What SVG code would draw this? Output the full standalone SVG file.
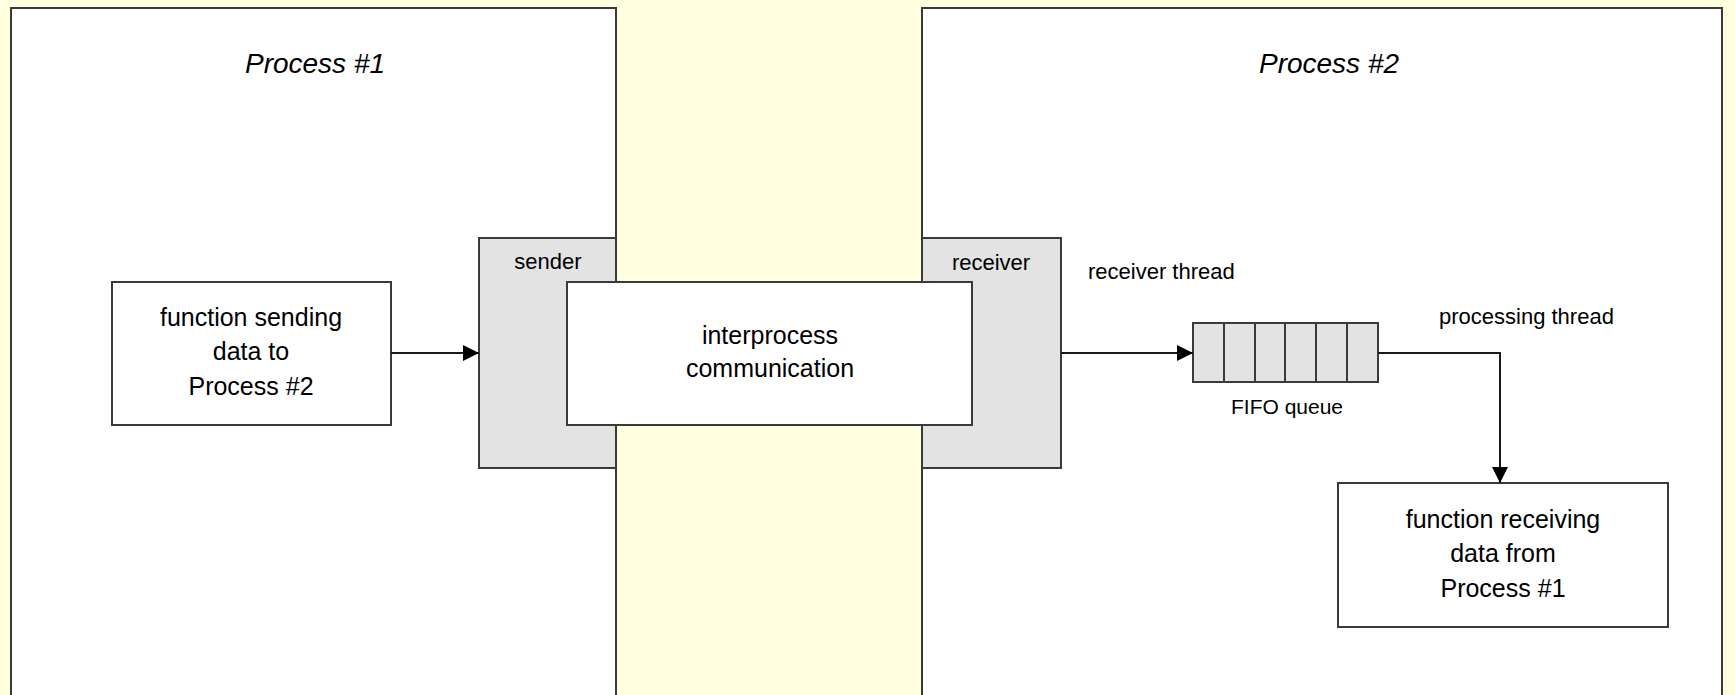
<svg xmlns="http://www.w3.org/2000/svg" width="1735" height="695" viewBox="0 0 1735 695">
<defs>
<style>
.bg{fill:#FFFFE0}
.proc{fill:#FFFFFF;stroke:#3a3a3a;stroke-width:2}
.gray{fill:#E3E3E3;stroke:#3a3a3a;stroke-width:2}
.box{fill:#FFFFFF;stroke:#3a3a3a;stroke-width:2}
.cell{fill:#E3E3E3;stroke:#3a3a3a;stroke-width:2}
.conn{fill:none;stroke:#1a1a1a;stroke-width:2}
text{font-family:"Liberation Sans",Arial,sans-serif;fill:#000}
.title{font-size:28px;font-style:italic;text-anchor:middle}
.lbl{font-size:22px}
.mid{text-anchor:middle}
.btxt{font-size:25px;text-anchor:middle}
</style>
<marker id="arr" viewBox="0 0 10 10" refX="10" refY="5" markerWidth="16" markerHeight="16" markerUnits="userSpaceOnUse" orient="auto">
<path d="M0,0 L10,5 L0,10 z" fill="#000"/>
</marker>
</defs>
<rect class="bg" x="0" y="0" width="1735" height="695"/>
<g id="process1">
<rect class="proc" x="11" y="8" width="605" height="700"/>
<text class="title" x="315" y="73">Process #1</text>
</g>
<g id="process2">
<rect class="proc" x="922" y="8" width="800" height="700"/>
<text class="title" x="1329" y="73">Process #2</text>
</g>
<g id="sender">
<rect class="gray" x="479" y="238" width="137" height="230"/>
<text class="lbl mid" x="548" y="269">sender</text>
</g>
<g id="receiver">
<rect class="gray" x="922" y="238" width="139" height="230"/>
<text class="lbl mid" x="991" y="270">receiver</text>
</g>
<g id="ipc">
<rect class="box" x="567" y="282" width="405" height="143"/>
<text class="btxt" x="770" y="344">interprocess</text>
<text class="btxt" x="770" y="377">communication</text>
</g>
<g id="func-send">
<rect class="box" x="112" y="282" width="279" height="143"/>
<text class="btxt" x="251" y="326">function sending</text>
<text class="btxt" x="251" y="360">data to</text>
<text class="btxt" x="251" y="395">Process #2</text>
</g>
<g id="fifo">
<rect class="cell" x="1193" y="323" width="185" height="59"/>
<line class="cell" x1="1224" y1="323" x2="1224" y2="382"/>
<line class="cell" x1="1255" y1="323" x2="1255" y2="382"/>
<line class="cell" x1="1285" y1="323" x2="1285" y2="382"/>
<line class="cell" x1="1316" y1="323" x2="1316" y2="382"/>
<line class="cell" x1="1347" y1="323" x2="1347" y2="382"/>
<text class="mid" x="1287" y="414" style="font-size:21px">FIFO queue</text>
</g>
<g id="func-recv">
<rect class="box" x="1338" y="483" width="330" height="144"/>
<text class="btxt" x="1503" y="528">function receiving</text>
<text class="btxt" x="1503" y="562">data from</text>
<text class="btxt" x="1503" y="597">Process #1</text>
</g>
<g id="labels">
<text class="lbl" x="1088" y="279">receiver thread</text>
<text class="lbl" x="1439" y="324">processing thread</text>
</g>
<g id="connectors">
<line class="conn" x1="391" y1="353" x2="479" y2="353" marker-end="url(#arr)"/>
<line class="conn" x1="1061" y1="353" x2="1193" y2="353" marker-end="url(#arr)"/>
<polyline class="conn" points="1378,353 1500,353 1500,483" marker-end="url(#arr)"/>
</g>
</svg>
